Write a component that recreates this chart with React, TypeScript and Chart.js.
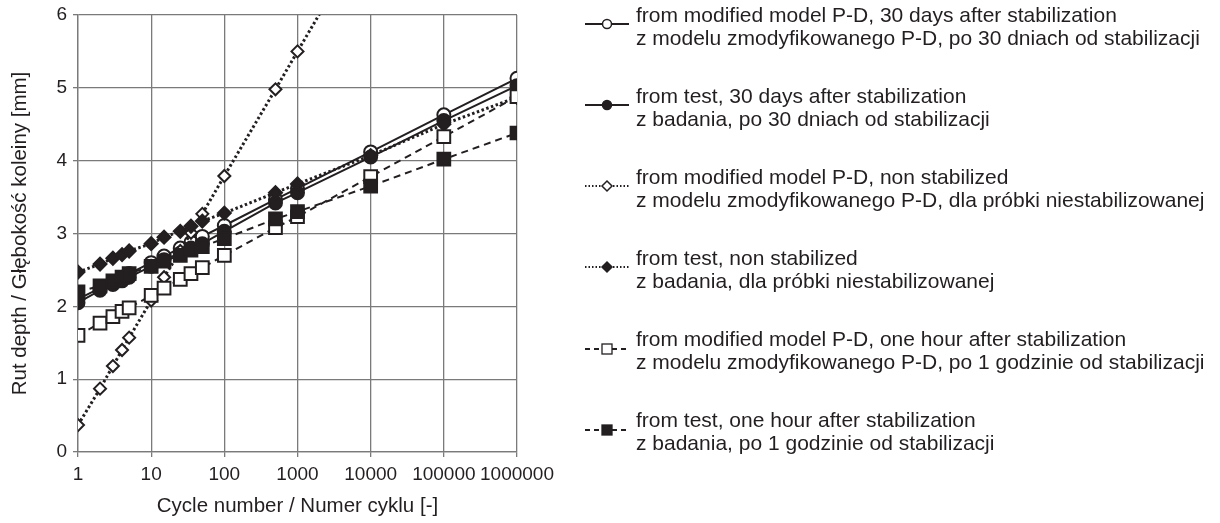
import React, { useEffect, useRef } from 'react';
import { Chart, registerables } from 'chart.js';
Chart.register(...registerables);

const cycles = [1, 2, 3, 4, 5, 10, 15, 25, 35, 50, 100, 500, 1000, 10000, 100000, 1000000];
const xTicks = [1, 10, 100, 1000, 10000, 100000, 1000000];
const yTicks = [0, 1, 2, 3, 4, 5, 6];

const model30 = [2.10, 2.25, 2.34, 2.40, 2.45, 2.60, 2.69, 2.80, 2.88, 2.96, 3.11, 3.47, 3.62, 4.12, 4.63, 5.13];
const test30 = [2.05, 2.22, 2.30, 2.35, 2.40, 2.55, 2.64, 2.73, 2.80, 2.86, 3.03, 3.42, 3.56, 4.05, 4.55, 5.03];
const modelNon = [0.37, 0.87, 1.18, 1.40, 1.57, 2.08, 2.40, 2.76, 3.01, 3.27, 3.79, 4.98, 5.50, 7.21, 8.92, 10.63];
const testNon = [2.47, 2.58, 2.66, 2.71, 2.76, 2.86, 2.95, 3.03, 3.10, 3.17, 3.28, 3.56, 3.68, 4.07, 4.50, 4.87];
const model1h = [1.60, 1.77, 1.86, 1.93, 1.98, 2.15, 2.25, 2.37, 2.45, 2.53, 2.70, 3.08, 3.23, 3.78, 4.33, 4.88];
const test1h = [2.20, 2.28, 2.35, 2.40, 2.45, 2.55, 2.62, 2.70, 2.77, 2.82, 2.93, 3.20, 3.30, 3.65, 4.02, 4.38];

const legendLine1 = [
  'from modified model P-D, 30 days after stabilization',
  'from test, 30 days after stabilization',
  'from modified model P-D, non stabilized',
  'from test, non stabilized',
  'from modified model P-D, one hour after stabilization',
  'from test, one hour after stabilization',
];
const legendLine2 = [
  'z modelu zmodyfikowanego P-D, po 30 dniach od stabilizacji',
  'z badania, po 30 dniach od stabilizacji',
  'z modelu zmodyfikowanego P-D, dla próbki niestabilizowanej',
  'z badania, dla próbki niestabilizowanej',
  'z modelu zmodyfikowanego P-D, po 1 godzinie od stabilizacji',
  'z badania, po 1 godzinie od stabilizacji',
];

const FONT = '"Liberation Sans", Arial, sans-serif';
const INK = '#231f20';
const GRID = '#7a7a7a';

type Spec = { data: number[]; style: 'circle' | 'rectRot' | 'rect'; filled: boolean; dash: number[]; width: number; radius: number };
const specs: Spec[] = [
  { data: model30, style: 'circle', filled: false, dash: [], width: 2, radius: 6.5 },
  { data: test30, style: 'circle', filled: true, dash: [], width: 2, radius: 6.5 },
  { data: modelNon, style: 'rectRot', filled: false, dash: [2.5, 2.5], width: 3, radius: 6 },
  { data: testNon, style: 'rectRot', filled: true, dash: [2.5, 2.5], width: 3, radius: 6.5 },
  { data: model1h, style: 'rect', filled: false, dash: [7, 5], width: 2, radius: 9 },
  { data: test1h, style: 'rect', filled: true, dash: [7, 5], width: 2, radius: 9 },
];

function Sample({ spec }: { spec: Spec }) {
  const fill = spec.filled ? INK : '#fff';
  let marker;
  if (spec.style === 'circle') marker = <circle cx={22} cy={10} r={4.5} fill={fill} stroke={INK} strokeWidth={1.5} />;
  else if (spec.style === 'rectRot') marker = <polygon points="22,5 27,10 22,15 17,10" fill={fill} stroke={INK} strokeWidth={1.5} />;
  else marker = <rect x={17} y={5} width={10} height={10} fill={fill} stroke={INK} strokeWidth={1.3} />;
  const dash = spec.dash.length ? (spec.style === 'rect' ? '5 4' : '1.5 2') : undefined;
  return (
    <svg width={44} height={20} style={{ position: 'absolute', left: 0, top: 0 }}>
      <line x1={0} y1={10} x2={44} y2={10} stroke={INK} strokeWidth={spec.style === 'rectRot' ? 2 : 1.8} strokeDasharray={dash} />
      {marker}
    </svg>
  );
}

export default function App() {
  const ref = useRef<HTMLCanvasElement | null>(null);
  useEffect(() => {
    if (!ref.current) return;
    const font = { family: FONT, size: 19 };
    const titleFont = { family: FONT, size: 20.5 };
    const chart = new Chart(ref.current, {
      type: 'line',
      data: {
        datasets: specs.map((s, i) => ({
          label: legendLine1[i],
          data: cycles.map((c, j) => ({ x: c, y: s.data[j] })),
          borderColor: INK,
          borderWidth: s.width,
          borderDash: s.dash,
          pointStyle: s.style,
          pointRadius: s.radius,
          pointBorderWidth: 2,
          pointBorderColor: INK,
          pointBackgroundColor: s.filled ? INK : '#fff',
          fill: false,
          tension: 0,
          order: 6 - i,
        })),
      },
      options: {
        animation: false,
        responsive: false,
        maintainAspectRatio: false,
        layout: { padding: { left: 8, top: 15, right: 703, bottom: 0 } },
        plugins: { legend: { display: false }, tooltip: { enabled: false } },
        scales: {
          x: {
            type: 'logarithmic',
            min: 1,
            max: 1000000,
            afterBuildTicks: (s: any) => { s.ticks = xTicks.map((v) => ({ value: v })); },
            afterFit: (s: any) => { s.height = 71; s.paddingLeft = 0; s.paddingRight = 0; },
            grid: { color: GRID, lineWidth: 1.3, tickLength: 5 },
            border: { color: GRID, width: 1.3 },
            ticks: { font, color: INK, padding: 6, maxRotation: 0, autoSkip: false, callback: (v: any) => String(v) },
            title: { display: true, text: 'Cycle number / Numer cyklu [-]', font: titleFont, color: INK, padding: { top: 0, bottom: 4 } },
          },
          y: {
            type: 'linear',
            min: 0,
            max: 6,
            afterBuildTicks: (s: any) => { s.ticks = yTicks.map((v) => ({ value: v })); },
            afterFit: (s: any) => { s.width = 70; s.paddingTop = 0; s.paddingBottom = 0; },
            grid: { color: GRID, lineWidth: 1.3, tickLength: 5 },
            border: { color: GRID, width: 1.3 },
            ticks: { font, color: INK, padding: 6, callback: (v: any) => String(v) },
            title: { display: true, text: 'Rut depth / Głębokość koleiny [mm]', font: titleFont, color: INK, padding: { top: 0, bottom: 0 } },
          },
        },
      },
    } as any);
    return () => chart.destroy();
  }, []);

  const line1Centers = [14, 95, 176, 257, 338.5, 419.5];
  return (
    <div style={{ position: 'fixed', left: 0, top: 0, width: 1220, height: 523, background: '#fff', overflow: 'hidden' }}>
      <canvas ref={ref} width={1220} height={523} style={{ display: 'block', position: 'absolute', left: 0, top: 0 }} />
      {specs.map((s, i) => (
        <div key={i}>
          <div style={{ position: 'absolute', left: 585, top: line1Centers[i], width: 44, height: 20 }}>
            <Sample spec={s} />
          </div>
          <div style={{ position: 'absolute', left: 636, top: line1Centers[i] - 11.5, font: `21px ${FONT}`, lineHeight: '23px', color: INK, whiteSpace: 'nowrap' }}>
            <div>{legendLine1[i]}</div>
            <div>{legendLine2[i]}</div>
          </div>
        </div>
      ))}
    </div>
  );
}
